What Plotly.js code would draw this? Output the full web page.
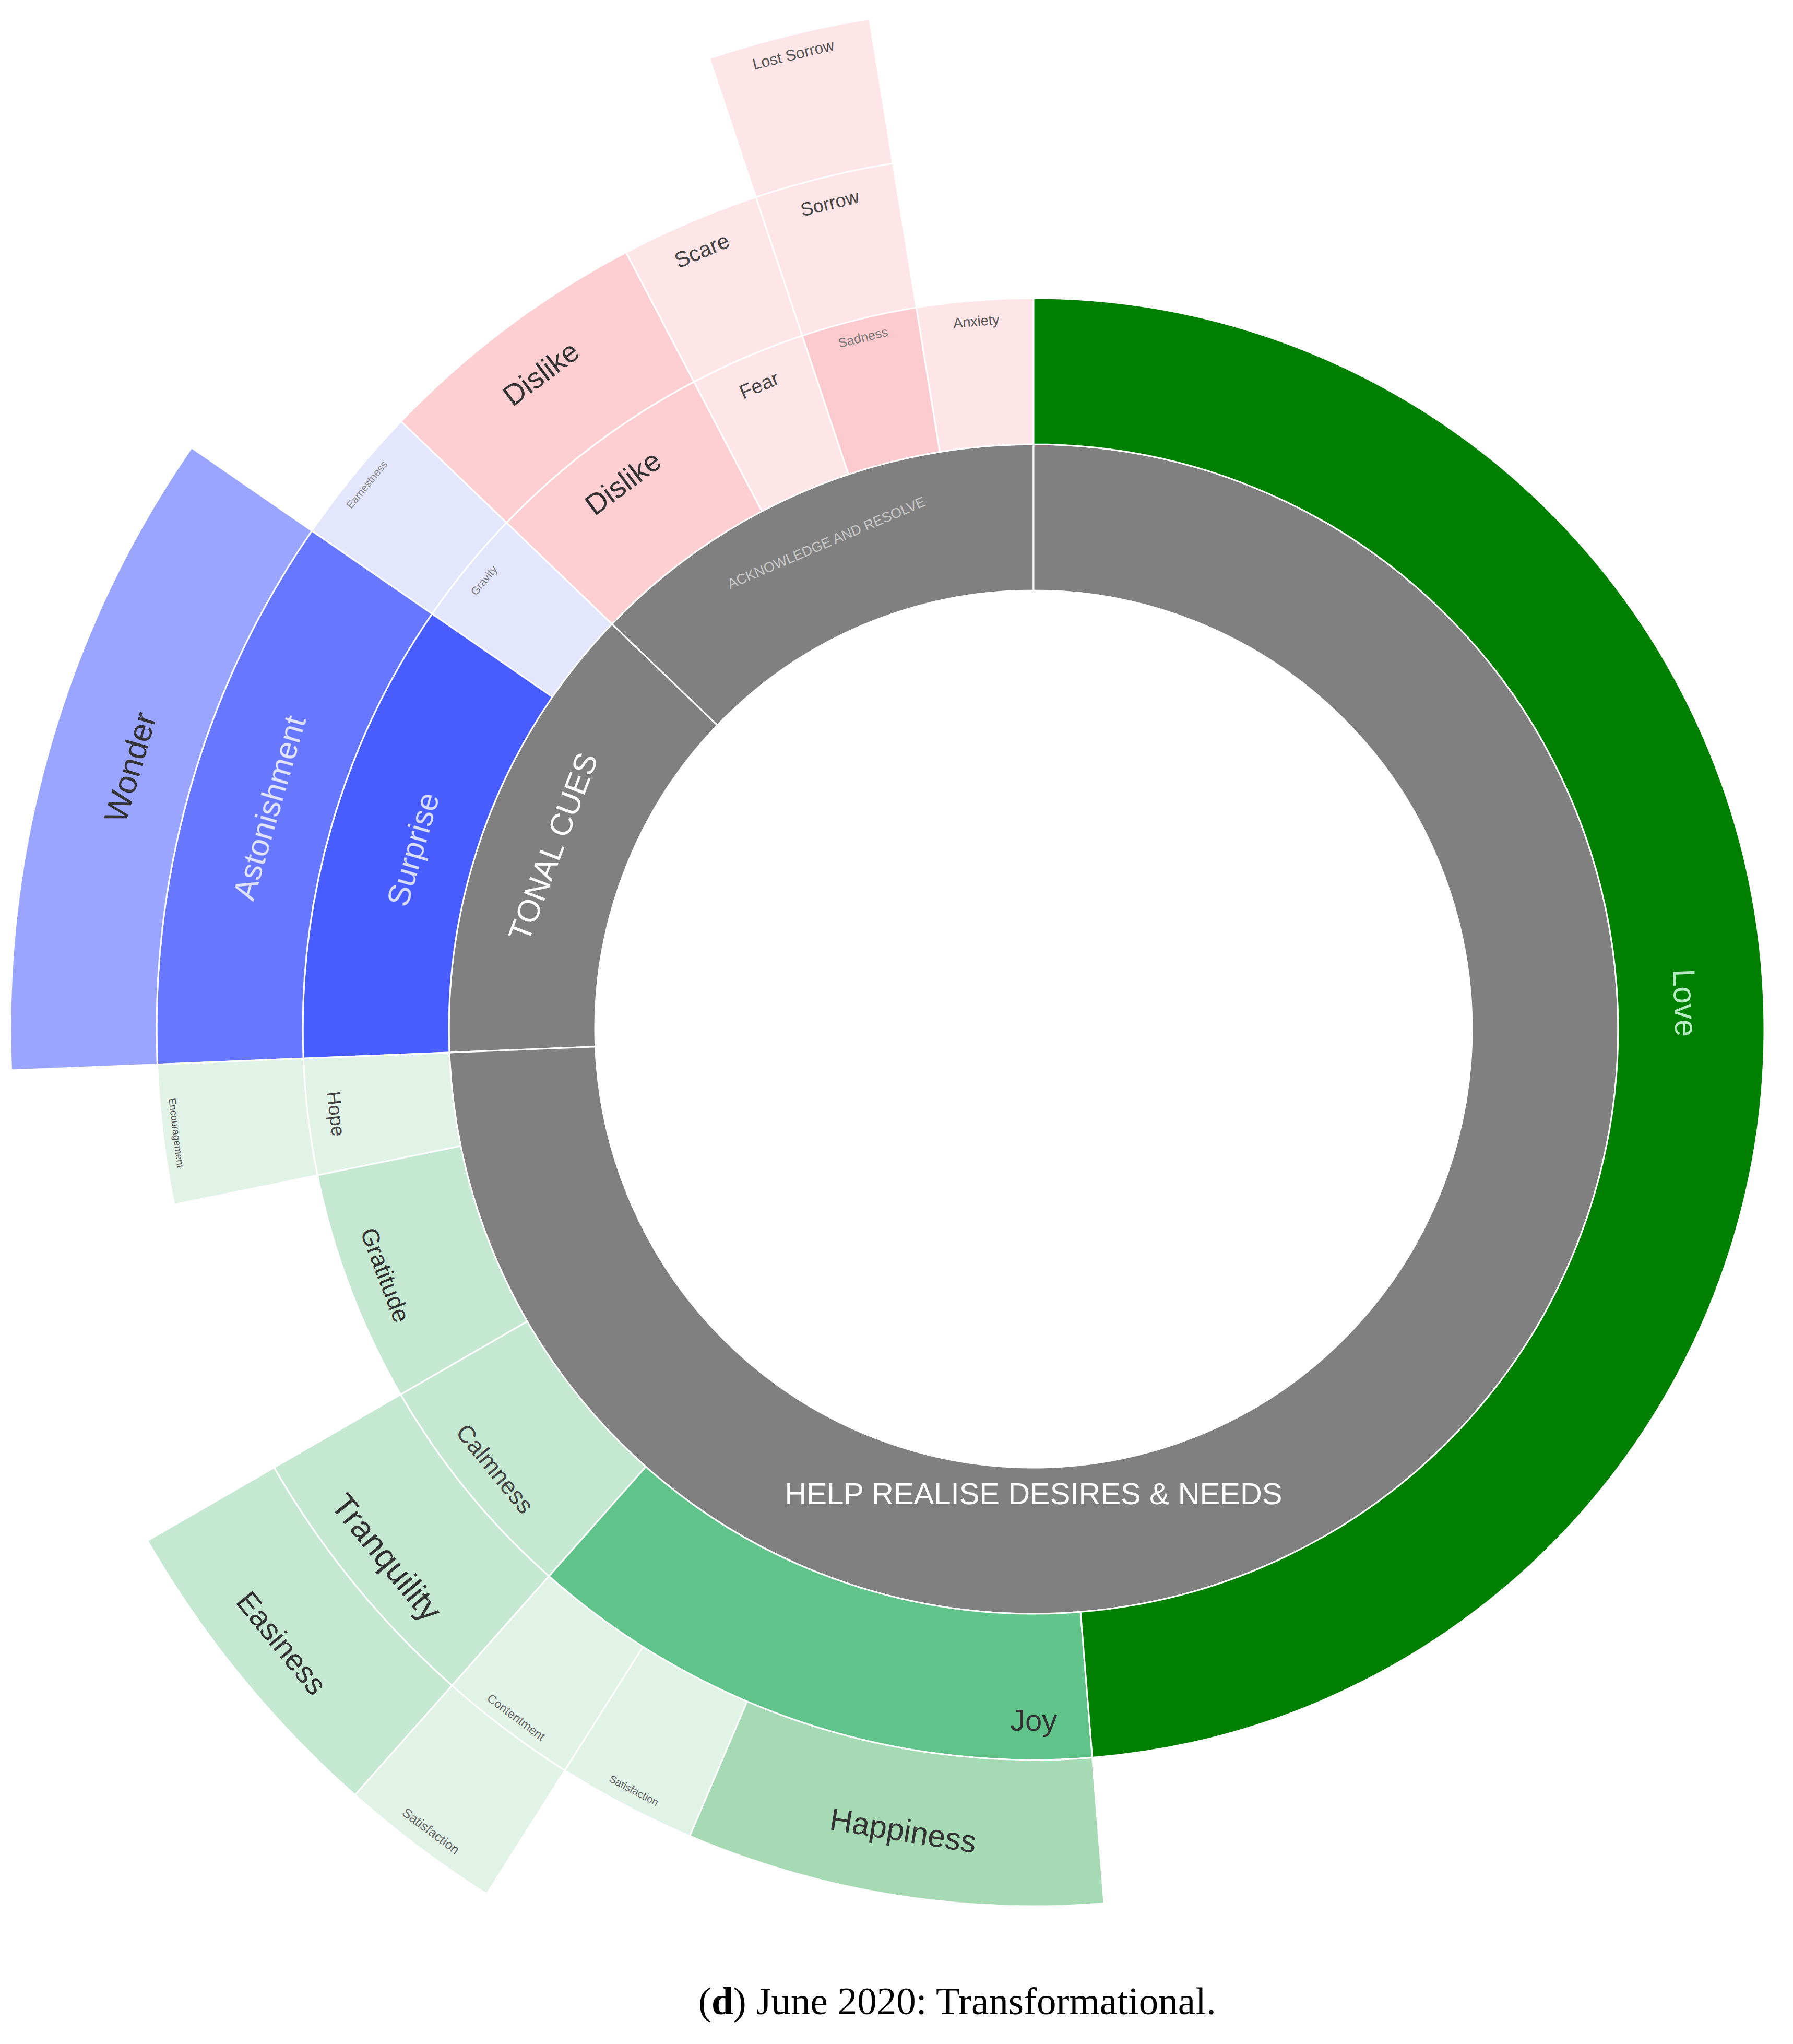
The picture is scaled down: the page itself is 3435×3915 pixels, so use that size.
<!DOCTYPE html>
<html>
<head>
<meta charset="utf-8">
<script src="https://cdn.plot.ly/plotly-3.0.1.min.js"></script>
<style>
html, body { margin: 0; padding: 0; overflow: hidden; background: #fff; width: 3435px; height: 3915px; }
#chart { position: absolute; left: 20px; top: 11px; width: 3920px; height: 3920px; }
</style>
</head>
<body>
<div id="chart"></div>
<script>
// hierarchy: three hidden levels make the white hole in the middle
const ids = [
    "root", "h1", "h2",
    "ack", "tonal", "help",
    "anxiety", "sadness", "sorrow", "lostsorrow", "fear", "scare", "dislike", "dislike2",
    "gravity", "earnestness", "surprise", "astonishment", "wonder",
    "hope", "encouragement", "gratitude", "calmness", "tranquility", "easiness",
    "joy", "contentment", "satisfaction2", "satisfaction", "happiness", "love"
];
const labels = [
    "", "", "",
    "ACKNOWLEDGE AND RESOLVE", "TONAL CUES", "HELP REALISE DESIRES & NEEDS",
    "Anxiety", "Sadness", "Sorrow", "Lost Sorrow", "Fear", "Scare", "Dislike", "Dislike",
    "Gravity", "Earnestness", "Surprise", "Astonishment", "Wonder",
    "Hope", "Encouragement", "Gratitude", "Calmness", "Tranquility", "Easiness",
    "Joy", "Contentment", "Satisfaction", "Satisfaction", "Happiness", "Love"
];
const parents = [
    "", "root", "h1",
    "h2", "h2", "h2",
    "ack", "ack", "sadness", "sorrow", "ack", "fear", "ack", "dislike",
    "tonal", "gravity", "tonal", "surprise", "astonishment",
    "help", "hope", "help", "help", "calmness", "tranquility",
    "help", "joy", "contentment", "joy", "joy", "help"
];
const values = [
    39, 39, 39,
    5, 5, 29,
    1, 1, 1, 1, 1, 1, 2, 2,
    1, 1, 4, 4, 4,
    1, 1, 2, 2, 2, 2,
    5, 1, 1, 1, 3, 19
];
const colors = [
    "rgba(0,0,0,0)", "rgba(0,0,0,0)", "rgba(0,0,0,0)",
    "#808080", "#808080", "#808080",
    "#fee5e8", "#fccbd0", "#fee5e8", "#fee5e8", "#fee5e8", "#fee5e8", "#fdcfd3", "#fdcfd3",
    "#e3e6fd", "#e3e6fd", "#485dff", "#6877ff", "#9aa5ff",
    "#e1f2e7", "#e1f2e7", "#c5e8d2", "#c5e8d2", "#c5e8d2", "#c5e8d2",
    "#60c389", "#e1f2e7", "#e1f2e7", "#e1f2e7", "#a6dab4", "#008000"
];
const textColors = [
    "#fff", "#fff", "#fff",
    "#c8c8c8", "#ffffff", "#ffffff",
    "#555", "#777", "#444", "#555", "#444", "#444", "#333", "#333",
    "#777", "#888", "#d8dcff", "#e0e3ff", "#333",
    "#444", "#555", "#333", "#444", "#333", "#333",
    "#333", "#666", "#666", "#666", "#333", "#b8ecc4"
];
const textSizes = [
    10, 10, 10,
    27, 60, 58,
    27, 25, 36, 30, 38, 42, 56, 56,
    21, 20, 60, 60, 62,
    36, 19, 46, 46, 64, 58,
    58, 23, 25, 20, 60, 60
];

const trace = {
    type: "sunburst",
    ids: ids,
    labels: labels,
    parents: parents,
    values: values,
    branchvalues: "total",
    sort: false,
    rotation: 90,
    textinfo: "label",
    insidetextorientation: "tangential",
    textfont: {
        family: "Liberation Sans, Arial, sans-serif",
        size: textSizes,
        color: textColors
    },
    marker: {
        colors: colors,
        line: { color: "#ffffff", width: 3 }
    },
    leaf: { opacity: 1 },
    hoverinfo: "none"
};

const layout = {
    width: 3920,
    height: 3920,
    margin: { l: 0, r: 0, t: 0, b: 0 },
    paper_bgcolor: "rgba(0,0,0,0)",
    showlegend: false,
    annotations: [{
        text: "(<b>d</b>) June 2020: Transformational.",
        xref: "paper",
        yref: "paper",
        x: 0.4628,
        y: 0.0252,
        xanchor: "center",
        yanchor: "middle",
        showarrow: false,
        font: { family: "Liberation Serif, Times New Roman, serif", size: 75, color: "#000" }
    }]
};

Plotly.newPlot("chart", [trace], layout, { staticPlot: true });
</script>
</body>
</html>
